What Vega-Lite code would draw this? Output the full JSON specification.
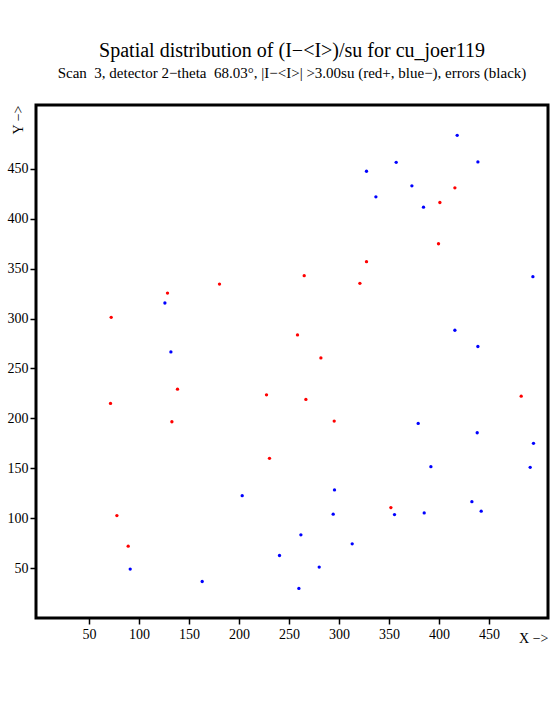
{
  "$schema": "https://vega.github.io/schema/vega-lite/v6.json",
  "width": 512,
  "height": 513,
  "autosize": {"type": "none"},
  "padding": {"left": 36, "top": 105, "right": 7, "bottom": 107},
  "background": "white",
  "title": {
    "text": "Spatial distribution of (I−<I>)/su for cu_joer119",
    "subtitle": "Scan \u00a03, detector 2−theta \u00a068.03°, |I−<I>| >3.00su (red+, blue−), errors (black)",
    "anchor": "middle",
    "font": "Liberation Serif",
    "fontSize": 20,
    "fontWeight": "normal",
    "color": "black",
    "subtitleFont": "Liberation Serif",
    "subtitleFontSize": 15,
    "subtitleColor": "black",
    "subtitlePadding": 5,
    "offset": 24
  },
  "data": {
    "values": [
      {"x": 265.2, "y": 343, "s": "+"},
      {"x": 180.5, "y": 334.6, "s": "+"},
      {"x": 128.5, "y": 325.6, "s": "+"},
      {"x": 125.9, "y": 315.6, "s": "-"},
      {"x": 72.2, "y": 301.3, "s": "+"},
      {"x": 258.5, "y": 283.6, "s": "+"},
      {"x": 131.9, "y": 266.6, "s": "-"},
      {"x": 418.2, "y": 483.6, "s": "-"},
      {"x": 357.2, "y": 456.6, "s": "-"},
      {"x": 438.9, "y": 457, "s": "-"},
      {"x": 327.5, "y": 447.6, "s": "-"},
      {"x": 372.9, "y": 433, "s": "-"},
      {"x": 415.9, "y": 431, "s": "+"},
      {"x": 336.9, "y": 422, "s": "-"},
      {"x": 400.9, "y": 416.3, "s": "+"},
      {"x": 384.5, "y": 411.6, "s": "-"},
      {"x": 399.5, "y": 375, "s": "+"},
      {"x": 327.5, "y": 357, "s": "+"},
      {"x": 320.9, "y": 335.3, "s": "+"},
      {"x": 493.9, "y": 342, "s": "-"},
      {"x": 415.9, "y": 288.3, "s": "-"},
      {"x": 438.9, "y": 272, "s": "-"},
      {"x": 281.9, "y": 260.6, "s": "+"},
      {"x": 138.5, "y": 229.3, "s": "+"},
      {"x": 71.5, "y": 215, "s": "+"},
      {"x": 227.5, "y": 223.6, "s": "+"},
      {"x": 266.9, "y": 219, "s": "+"},
      {"x": 132.9, "y": 196.6, "s": "+"},
      {"x": 230.5, "y": 160, "s": "+"},
      {"x": 203.2, "y": 122.6, "s": "-"},
      {"x": 77.9, "y": 102.6, "s": "+"},
      {"x": 261.9, "y": 83.3, "s": "-"},
      {"x": 89.2, "y": 72, "s": "+"},
      {"x": 240.5, "y": 62.6, "s": "-"},
      {"x": 91.2, "y": 49, "s": "-"},
      {"x": 163.2, "y": 36.6, "s": "-"},
      {"x": 259.9, "y": 29.6, "s": "-"},
      {"x": 295.2, "y": 197.3, "s": "+"},
      {"x": 482.2, "y": 222.3, "s": "+"},
      {"x": 379.2, "y": 195, "s": "-"},
      {"x": 438.2, "y": 185.6, "s": "-"},
      {"x": 494.5, "y": 175, "s": "-"},
      {"x": 391.9, "y": 151.6, "s": "-"},
      {"x": 491.2, "y": 151, "s": "-"},
      {"x": 295.5, "y": 128.3, "s": "-"},
      {"x": 432.9, "y": 116.6, "s": "-"},
      {"x": 351.9, "y": 110.6, "s": "+"},
      {"x": 442.2, "y": 107, "s": "-"},
      {"x": 294.2, "y": 104, "s": "-"},
      {"x": 355.5, "y": 103.6, "s": "-"},
      {"x": 385.2, "y": 105.3, "s": "-"},
      {"x": 313.2, "y": 74.3, "s": "-"},
      {"x": 280.2, "y": 51, "s": "-"}
    ]
  },
  "mark": {"type": "circle", "size": 11, "opacity": 1, "clip": true},
  "encoding": {
    "x": {
      "field": "x",
      "type": "quantitative",
      "scale": {"domain": [-3, 509], "nice": false, "zero": false},
      "axis": {
        "values": [50, 100, 150, 200, 250, 300, 350, 400, 450],
        "title": "X −>",
        "titleX": 512,
        "titleY": 24,
        "titleAlign": "right",
        "titleAnchor": null,
        "titleBaseline": "alphabetic",
        "titleFontWeight": "normal",
        "titleFontSize": 14,
        "grid": false,
        "domain": false,
        "tickSize": 6,
        "tickWidth": 1.5,
        "tickColor": "black",
        "labelPadding": 3,
        "labelFontSize": 14,
        "labelColor": "black",
        "titleColor": "black"
      }
    },
    "y": {
      "field": "y",
      "type": "quantitative",
      "scale": {"domain": [0, 514], "nice": false, "zero": false},
      "axis": {
        "values": [50, 100, 150, 200, 250, 300, 350, 400, 450],
        "title": "Y −>",
        "titleX": -18,
        "titleY": 0,
        "titleAngle": -90,
        "titleAlign": "right",
        "titleAnchor": null,
        "titleBaseline": "middle",
        "titleFontWeight": "normal",
        "titleFontSize": 14,
        "grid": false,
        "domain": false,
        "tickSize": 6,
        "tickWidth": 1.5,
        "tickColor": "black",
        "labelPadding": 2,
        "labelFontSize": 14,
        "labelColor": "black",
        "titleColor": "black"
      }
    },
    "color": {
      "field": "s",
      "type": "nominal",
      "scale": {"domain": ["+", "-"], "range": ["#ff0000", "#0000ff"]},
      "legend": null
    }
  },
  "config": {
    "font": "Liberation Serif",
    "view": {"stroke": "black", "strokeWidth": 3}
  }
}
